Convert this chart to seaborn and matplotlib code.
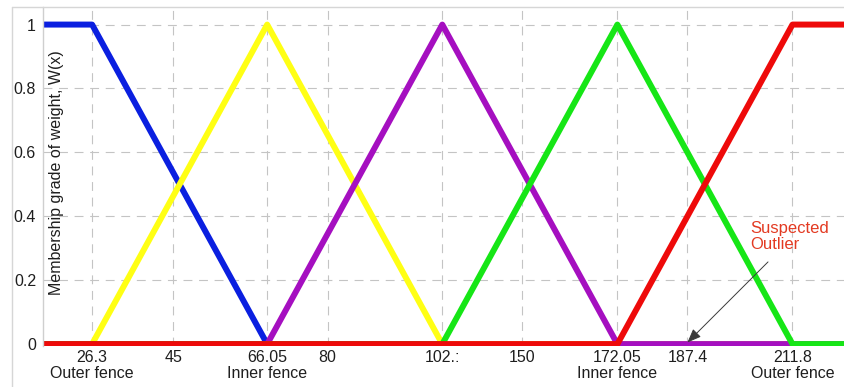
import numpy as np
import pandas as pd
import matplotlib
matplotlib.use("Agg")
import matplotlib.pyplot as plt
from matplotlib.lines import Line2D
import seaborn as sns

# Weight fences and tick values
fences = [26.3, 66.05, 102.5, 172.05, 211.8]
tick_values = [26.3, 45, 66.05, 80, 102.5, 150, 172.05, 187.4, 211.8]
tick_labels = ["26.3\nOuter fence", "45", "66.05\nInner fence", "80", "102.:",
               "150", "172.05\nInner fence", "187.4", "211.8\nOuter fence"]
x_min, x_max = 15.0, 224.0
outlier = 187.4

# Membership functions (breakpoints and grades)
set_names = ["very light", "light", "normal", "heavy", "very heavy"]
x_very_light = [x_min, 26.3, 66.05, x_max]
w_very_light = [1, 1, 0, 0]
x_light = [x_min, 26.3, 66.05, 102.5, x_max]
w_light = [0, 0, 1, 0, 0]
x_normal = [x_min, 66.05, 102.5, 172.05, x_max]
w_normal = [0, 0, 1, 0, 0]
x_heavy = [x_min, 102.5, 172.05, 211.8, x_max]
w_heavy = [0, 0, 1, 0, 0]
x_very_heavy = [x_min, 172.05, 211.8, x_max]
w_very_heavy = [0, 0, 1, 1]

colors = ["#0a1fe0", "#ffff14", "#a50fc0", "#16e616", "#ee0a0a"]

frames = []
for name, xs, ws in zip(set_names,
                        [x_very_light, x_light, x_normal, x_heavy, x_very_heavy],
                        [w_very_light, w_light, w_normal, w_heavy, w_very_heavy]):
    frames.append(pd.DataFrame({"x": xs, "w": ws, "set": name}))
df = pd.concat(frames, ignore_index=True)

# Piecewise-linear axis: fences equally spaced, intermediate ticks inside
knot_v = np.array(tick_values)
knot_u = np.array([0, 0.464, 1, 1.345, 2, 2.455, 3, 3.40, 4])


def _pw(x, xp, fp):
    x = np.asarray(x, dtype=float)
    y = np.interp(x, xp, fp)
    s0 = (fp[1] - fp[0]) / (xp[1] - xp[0])
    s1 = (fp[-1] - fp[-2]) / (xp[-1] - xp[-2])
    y = np.where(x < xp[0], fp[0] + (x - xp[0]) * s0, y)
    y = np.where(x > xp[-1], fp[-1] + (x - xp[-1]) * s1, y)
    return y


def fwd(x):
    return _pw(x, knot_v, knot_u)


def inv(u):
    return _pw(u, knot_u, knot_v)


sns.set_theme(style="white")
plt.rcParams["font.family"] = ["Liberation Sans", "DejaVu Sans"]

W, H = 845, 387
fig = plt.figure(figsize=(W / 100, H / 100), dpi=100)
ax = fig.add_axes([43 / W, (H - 346) / H, 1 - 43 / W, (346 - 7) / H])
ax.set_xscale("function", functions=(fwd, inv))

sns.lineplot(data=df, x="x", y="w", hue="set", hue_order=set_names,
             palette=colors, sort=False, estimator=None, linewidth=4.3,
             legend=False, ax=ax, solid_capstyle="butt")

ax.set_xlim(x_min, x_max)
ax.set_ylim(-0.006, 1.055)
ax.set_xticks(tick_values)
ax.set_xticklabels(tick_labels, fontsize=11.5, color="#1e1e1e", linespacing=1.05)
ax.set_yticks([0, 0.2, 0.4, 0.6, 0.8, 1])
ax.set_yticklabels(["0", "0.2", "0.4", "0.6", "0.8", "1"], fontsize=11.5, color="#1e1e1e")
ax.xaxis.set_minor_locator(matplotlib.ticker.NullLocator())
ax.tick_params(axis="both", length=0)
ax.tick_params(axis="y", pad=5)
ax.tick_params(axis="x", pad=3)

ax.grid(True, linestyle=(0, (8, 6)), color="#c4c4c4", linewidth=0.8)
ax.set_axisbelow(True)

for side in ["top", "right", "bottom"]:
    ax.spines[side].set_visible(False)
ax.spines["left"].set_color("#cfcfcf")
ax.spines["left"].set_linewidth(1.0)

ax.set_xlabel("")
ax.set_ylabel("Membership grade of weight, W(x)", fontsize=11.5, color="#1e1e1e")
ax.yaxis.set_label_coords(0.026, 0.51)

# Suspected outlier callout
ax.annotate("", xy=(outlier, 0.005), xycoords="data",
            xytext=(0.904, 0.248), textcoords="axes fraction",
            arrowprops=dict(arrowstyle="-|>,head_length=0.7,head_width=0.28",
                            color="#3a3a3a", lw=0.7, shrinkA=0, shrinkB=0))
ax.text(0.882, 0.37, "Suspected\nOutlier", transform=ax.transAxes,
        ha="left", va="top", fontsize=12, color="#e33a22", linespacing=1.1)

# Outer window frame
fig.add_artist(Line2D([12 / W, 12 / W], [0, (H - 7) / H], transform=fig.transFigure,
                      color="#d6d6d6", lw=1.0))
fig.add_artist(Line2D([12 / W, 1], [(H - 7) / H, (H - 7) / H], transform=fig.transFigure,
                      color="#d6d6d6", lw=1.0))

fig.savefig("out.png", dpi=100)
